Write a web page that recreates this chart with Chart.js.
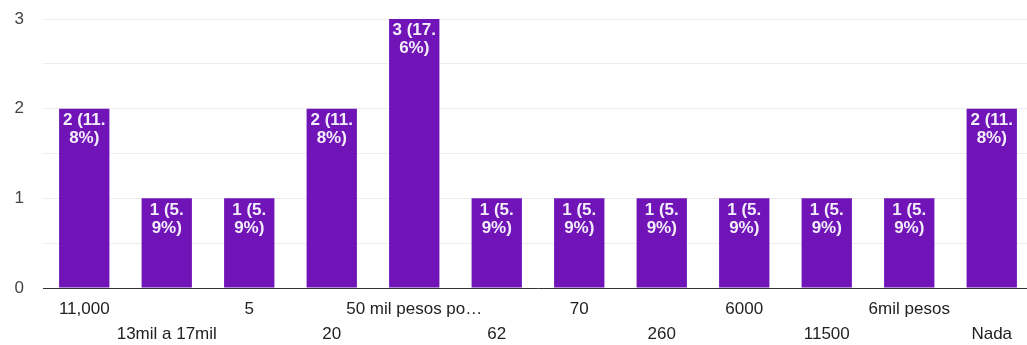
<!DOCTYPE html>
<html>
<head>
<meta charset="utf-8">
<script src="https://cdn.jsdelivr.net/npm/chart.js@4.4.1/dist/chart.umd.min.js"></script>
<style>
  html, body { margin: 0; padding: 0; background: #fff; overflow: hidden; }
  #box { position: relative; width: 1034px; height: 345px; }
</style>
</head>
<body>
<div id="box"><canvas id="grafico"></canvas></div>
<script>
  // respostas e contagens
  const categorias = ['11,000', '13mil a 17mil', '5', '20', '50 mil pesos po…', '62', '70', '260', '6000', '11500', '6mil pesos', 'Nada'];
  const contagens = [2, 1, 1, 2, 3, 1, 1, 1, 1, 1, 1, 2];
  const marcasY = [0, 1, 2, 3];

  const ROXO = '#7014b8';
  const FONTE = '"Liberation Sans", Arial, sans-serif';
  const total = contagens.reduce((a, b) => a + b, 0);

  // quebra o rótulo em linhas que caibam na largura da barra
  function quebrar(ctx, texto, max) {
    const partes = texto.match(/[^ .]*[ .]?/g).filter(Boolean);
    const linhas = [];
    let atual = '';
    partes.forEach(p => {
      if (atual && ctx.measureText((atual + p).trimEnd()).width > max) {
        linhas.push(atual.trimEnd());
        atual = p;
      } else {
        atual += p;
      }
    });
    if (atual) linhas.push(atual.trimEnd());
    return linhas;
  }

  const rotulosBarras = {
    id: 'rotulosBarras',
    afterDatasetsDraw(chart) {
      const ctx = chart.ctx;
      const meta = chart.getDatasetMeta(0);
      ctx.save();
      ctx.font = 'bold 17px ' + FONTE;
      ctx.fillStyle = '#f4eefa';
      ctx.textAlign = 'center';
      ctx.textBaseline = 'top';
      meta.data.forEach((bar, i) => {
        const v = contagens[i];
        const txt = `${v} (${(v / total * 100).toFixed(1)}%)`;
        quebrar(ctx, txt, bar.width).forEach((ln, k) => {
          ctx.fillText(ln, bar.x, bar.y + 3 + k * 18);
        });
      });
      ctx.restore();
    }
  };

  new Chart(document.getElementById('grafico'), {
    type: 'bar',
    plugins: [rotulosBarras],
    data: {
      labels: categorias,
      datasets: [{ data: contagens, backgroundColor: ROXO, barPercentage: 0.61, categoryPercentage: 1 }]
    },
    options: {
      responsive: true, maintainAspectRatio: false, animation: false,
      layout: { padding: { top: 19, right: 1, left: 0, bottom: 0 } },
      plugins: { legend: { display: false }, tooltip: { enabled: false } },
      scales: {
        x: {
          grid: { display: false, drawTicks: false },
          border: { color: '#333', width: 1 },
          ticks: {
            autoSkip: false, maxRotation: 0, minRotation: 0, padding: 9,
            color: '#222', font: { family: FONTE, size: 17, lineHeight: 1.47 },
            // rótulos alternados em duas linhas
            callback: (v, i) => i % 2 === 0 ? [categorias[i], ''] : ['', categorias[i]]
          },
          afterFit: s => { s.height = 57; s.paddingLeft = 0; s.paddingRight = 0; }
        },
        y: {
          min: 0, max: 3,
          grid: { color: c => c.tick.value === 0 ? 'rgba(0,0,0,0)' : '#ececec', drawTicks: false },
          border: { display: false },
          ticks: {
            stepSize: 0.5, padding: 19, color: '#444', font: { family: FONTE, size: 17 },
            callback: v => marcasY.includes(v) ? v : ''
          },
          afterFit: s => { s.width = 43; s.paddingTop = 0; s.paddingBottom = 0; }
        }
      }
    }
  });
</script>
</body>
</html>
